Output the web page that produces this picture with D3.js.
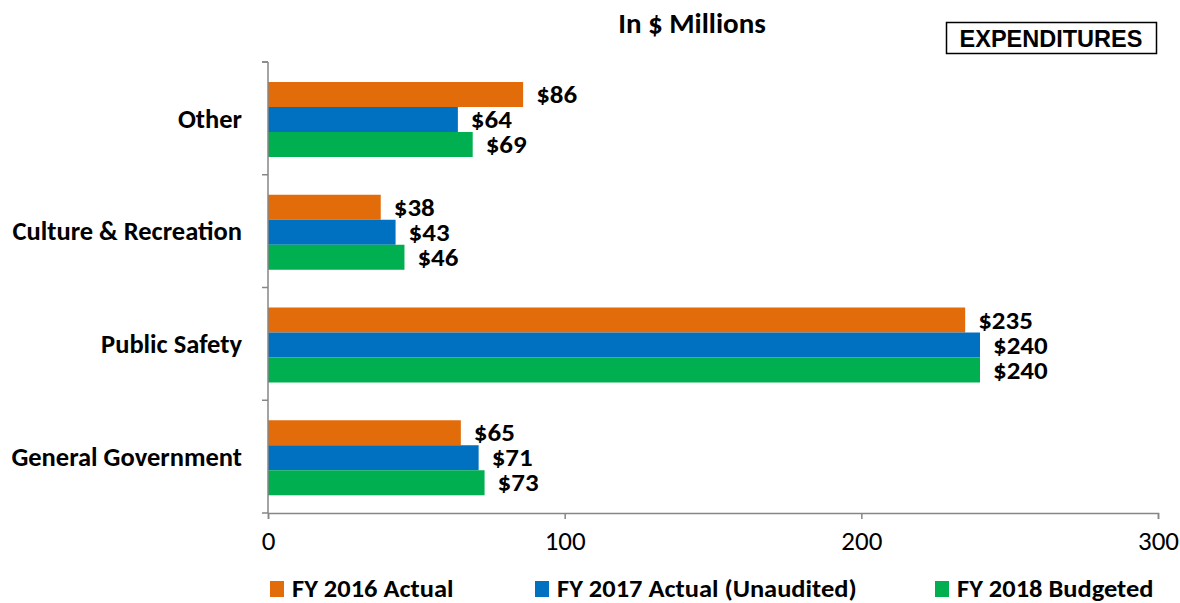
<!DOCTYPE html>
<html>
<head>
<meta charset="utf-8">
<script src="https://cdn.jsdelivr.net/npm/d3@7"></script>
<style>
  body { margin: 0; background: #fff; }
  svg text { font-family: Carlito, Lato, "Open Sans", sans-serif; }
</style>
</head>
<body>
<svg id="chart" width="1180" height="603"></svg>
<script>
// Expenditure categories (bottom to top as drawn on the axis)
const categories = ["General Government", "Public Safety", "Culture & Recreation", "Other"];
const seriesNames = ["FY 2016 Actual", "FY 2017 Actual (Unaudited)", "FY 2018 Budgeted"];
const fy2016 = [65, 235, 38, 86];
const fy2017 = [71, 240, 43, 64];
const fy2018 = [73, 240, 46, 69];
const xTicks = [0, 100, 200, 300];
const colors = ["#E36C0A", "#0070C0", "#00B050"];

const seriesValues = [fy2016, fy2017, fy2018];

const svg = d3.select("#chart");
const margin = { left: 268, right: 22, top: 62, bottom: 90 };
const width = 1180, height = 603;

const x = d3.scaleLinear().domain([0, 300]).range([margin.left, width - margin.right]);
const y = d3.scaleBand()
  .domain(categories.slice().reverse())
  .range([margin.top, height - margin.bottom])
  .paddingInner(0).paddingOuter(0);

// three bars per category, clustered with space above and below
const inner = d3.scaleBand()
  .domain(d3.range(seriesNames.length))
  .range([20, 95])
  .padding(0);

// Title
svg.append("text")
  .attr("x", 692).attr("y", 33)
  .attr("text-anchor", "middle")
  .attr("font-size", 29).attr("font-weight", "bold")
  .text("In $ Millions");

// Boxed heading
svg.append("rect")
  .attr("x", 946.5).attr("y", 22.5).attr("width", 210).attr("height", 31)
  .attr("fill", "#fff").attr("stroke", "#000").attr("stroke-width", 1.5);
svg.append("text")
  .attr("x", 1051).attr("y", 46.5)
  .attr("text-anchor", "middle")
  .style("font-family", "'Liberation Sans', Arial, sans-serif")
  .attr("font-size", 23.5).attr("font-weight", "bold")
  .text("EXPENDITURES");

// Bars and value labels (labels slightly widened, narrow line height)
categories.forEach((cat, ci) => {
  const g = svg.append("g").attr("transform", `translate(0,${y(cat)})`);
  seriesValues.forEach((vals, si) => {
    const v = vals[ci];
    g.append("rect")
      .attr("x", x(0)).attr("y", inner(si))
      .attr("width", x(v) - x(0)).attr("height", inner.bandwidth())
      .attr("fill", colors[si]);
    g.append("text")
      .attr("transform", `translate(${x(v) + 13},${inner(si) + inner.bandwidth() / 2}) scale(1.1,1)`)
      .attr("dy", "0.35em")
      .attr("font-size", 24.5).attr("font-weight", "bold")
      .text("$" + v);
  });
});

// Y axis line with category boundary ticks
const yg = svg.append("g").attr("transform", `translate(${x(0)},0)`);
yg.append("line")
  .attr("x1", 0).attr("x2", 0)
  .attr("y1", margin.top).attr("y2", height - margin.bottom)
  .attr("stroke", "#868686").attr("stroke-width", 1.5);
const yBounds = categories.map(c => y(c)).concat([margin.top, height - margin.bottom]);
yg.selectAll("line.tick").data(yBounds).join("line")
  .attr("class", "tick")
  .attr("x1", -6).attr("x2", 0)
  .attr("y1", d => d).attr("y2", d => d)
  .attr("stroke", "#868686").attr("stroke-width", 1.5);

// Category labels
svg.selectAll("text.cat").data(categories).join("text")
  .attr("class", "cat")
  .attr("x", 242)
  .attr("y", d => y(d) + y.bandwidth() / 2)
  .attr("dy", "0.35em")
  .attr("text-anchor", "end")
  .attr("font-size", 26.5).attr("font-weight", "bold")
  .text(d => d);

// X axis
const xAxis = d3.axisBottom(x).tickValues(xTicks).tickSize(6).tickPadding(12).tickFormat(d3.format("d"));
const xg = svg.append("g").attr("transform", `translate(0,${height - margin.bottom})`).call(xAxis);
xg.select(".domain").attr("stroke", "#868686").attr("stroke-width", 1.5);
xg.selectAll(".tick line").attr("stroke", "#868686").attr("stroke-width", 1.5);
xg.selectAll(".tick text")
  .attr("font-size", 27).attr("fill", "#000")
  .style("font-family", "Carlito, Lato, 'Open Sans', sans-serif");

// Legend
const legendX = [270, 535, 935];
const legend = svg.selectAll("g.legend").data(seriesNames).join("g")
  .attr("class", "legend")
  .attr("transform", (d, i) => `translate(${legendX[i]},588)`);
legend.append("rect")
  .attr("x", 0).attr("y", -7).attr("width", 14).attr("height", 16)
  .attr("fill", (d, i) => colors[i]);
legend.append("text")
  .attr("transform", "translate(22,0) scale(1.08,1)")
  .attr("dy", "0.35em")
  .attr("font-size", 24.5).attr("font-weight", "bold")
  .text(d => d);
</script>
</body>
</html>
